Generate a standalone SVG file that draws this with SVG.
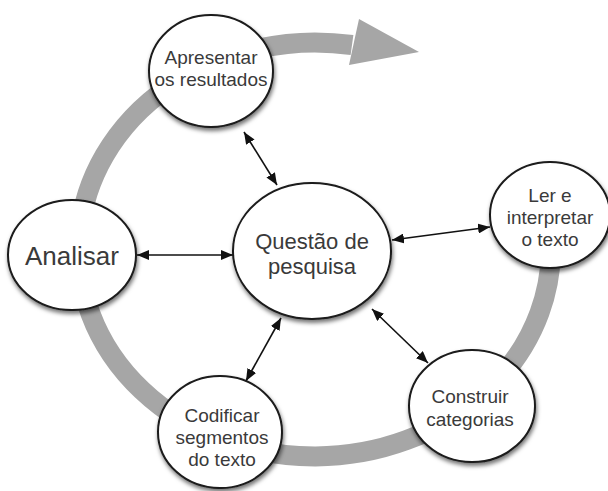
<svg xmlns="http://www.w3.org/2000/svg" width="608" height="491" viewBox="0 0 608 491">
<style>
.node{fill:#fff;stroke:#1a1a1a;stroke-width:2;filter:url(#sh)}
.t{font-family:"Liberation Sans",Arial,sans-serif;fill:#3a3a3a;text-anchor:middle;font-size:19px}
.con{stroke:#111;stroke-width:1.6;fill:none;marker-start:url(#ah);marker-end:url(#ah)}
</style>
<defs>
<filter id="sh" x="-20%" y="-20%" width="140%" height="150%">
<feDropShadow dx="1" dy="3" stdDeviation="2" flood-color="#000" flood-opacity="0.55"/>
</filter>
<marker id="ah" viewBox="0 0 12 10" refX="12" refY="5" markerWidth="12" markerHeight="10" markerUnits="userSpaceOnUse" orient="auto-start-reverse">
<path d="M0,0 L12,5 L0,10 Z" fill="#111"/>
</marker>
</defs>
<g id="cycle">
<path d="M550,232 A236 207 0 1 1 352,45" fill="none" stroke="#a6a6a6" stroke-width="20"/>
<polygon points="359,19 419,52 349,65" fill="#a6a6a6"/>
</g>
<g id="connectors">
<line class="con" x1="244" y1="132" x2="277" y2="185"/>
<line class="con" x1="137" y1="255" x2="233" y2="255"/>
<line class="con" x1="392" y1="240" x2="490" y2="227"/>
<line class="con" x1="281" y1="318" x2="246" y2="381"/>
<line class="con" x1="372" y1="309" x2="428" y2="363"/>
</g>
<g id="apresentar">
<ellipse class="node" cx="211" cy="71" rx="62" ry="56"/>
<text class="t" x="211" y="64">Apresentar</text>
<text class="t" x="211" y="86">os resultados</text>
</g>
<g id="analisar">
<ellipse class="node" cx="72" cy="255" rx="64" ry="55"/>
<text class="t" x="72" y="265" style="font-size:26px">Analisar</text>
</g>
<g id="questao">
<ellipse class="node" cx="312" cy="251" rx="79" ry="68"/>
<text class="t" x="312" y="249" style="font-size:22px">Questão de</text>
<text class="t" x="312" y="274" style="font-size:22px">pesquisa</text>
</g>
<g id="ler">
<ellipse class="node" cx="550" cy="215" rx="60" ry="53"/>
<text class="t" x="550" y="202">Ler e</text>
<text class="t" x="550" y="224">interpretar</text>
<text class="t" x="550" y="246">o texto</text>
</g>
<g id="codificar">
<ellipse class="node" cx="220" cy="432" rx="62" ry="56"/>
<text class="t" x="222" y="422">Codificar</text>
<text class="t" x="222" y="444">segmentos</text>
<text class="t" x="222" y="466">do texto</text>
</g>
<g id="construir">
<ellipse class="node" cx="472" cy="406" rx="63" ry="56"/>
<text class="t" x="470" y="403">Construir</text>
<text class="t" x="470" y="426">categorias</text>
</g>
</svg>
